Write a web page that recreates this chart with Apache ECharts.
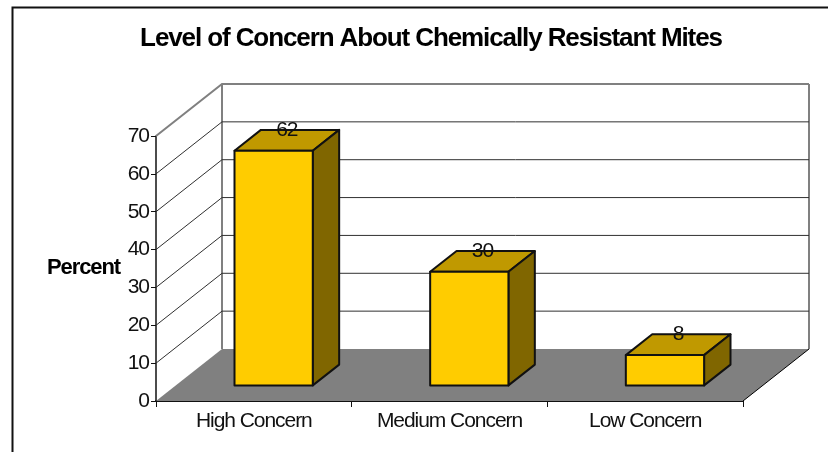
<!DOCTYPE html>
<html><head><meta charset="utf-8">
<style>html,body{margin:0;padding:0;background:#fff}#c{width:828px;height:452px}</style>
<script src="https://cdn.jsdelivr.net/npm/echarts@6/dist/echarts.min.js"></script>
</head><body><div id="c"></div>
<script>
const categories = ['High Concern', 'Medium Concern', 'Low Concern'];
const percentValues = [62, 30, 8];
const yTicks = [0, 10, 20, 30, 40, 50, 60, 70];
const chartTitle = 'Level of Concern About Chemically Resistant Mites';
const yAxisName = 'Percent';

// tight glyph spacing of the original rendering
const proto = CanvasRenderingContext2D.prototype;
function tight(ctx) { ctx.letterSpacing = ctx.font.indexOf('bold') >= 0 ? '-1.1px' : '-1.05px'; }
['fillText', 'strokeText', 'measureText'].forEach(function (m) {
  const o = proto[m];
  proto[m] = function () { tight(this); return o.apply(this, arguments); };
});

const DX = 66, DY = -52;
const FONT = 'Liberation Sans';

function renderFrame(params, api) {
  const v = api.value(1), cs = params.coordSys;
  const x0 = cs.x, x1 = cs.x + cs.width, y = api.coord([0, v])[1];
  const top = api.coord([0, yTicks[yTicks.length - 1]])[1];
  const base = api.coord([0, 0])[1];
  const grey = { stroke: '#808080', lineWidth: 2, fill: null };
  if (v === 0) {
    return { type: 'group', children: [
      { type: 'polygon', shape: { points: [[x0, base], [x0 + DX, base + DY], [x1 + DX, base + DY], [x1, base]] },
        style: { fill: '#808080', stroke: null } },
      { type: 'polyline', shape: { points: [[x0 + DX, top + DY], [x0 + DX, base + DY]] }, style: grey },
      { type: 'polyline', shape: { points: [[x1 + DX, top + DY], [x1 + DX, base + DY]] }, style: grey },
      { type: 'polyline', shape: { points: [[x1, base], [x1 + DX, base + DY]] }, style: { stroke: '#000', lineWidth: 1, fill: null } }
    ] };
  }
  const isTop = v === yTicks[yTicks.length - 1];
  return { type: 'polyline',
    shape: { points: [[x0, y], [x0 + DX, y + DY], [x1 + DX, y + DY]] },
    style: isTop ? grey : { stroke: '#303030', lineWidth: 1, fill: null } };
}

function renderBar(params, api) {
  const cat = api.value(0), val = api.value(1);
  const c = api.coord([cat, val]), b = api.coord([cat, 0]);
  const band = api.size([1, 0])[0];
  const w = band * 0.4;
  const fx = DX * 0.3, fy = DY * 0.3, dx = DX * 0.4, dy = DY * 0.4;
  const l = c[0] - w / 2 + fx, r = l + w;
  const t = c[1] + fy, bt = b[1] + fy;
  const edge = { stroke: '#111', lineWidth: 2, lineJoin: 'round' };
  return { type: 'group', children: [
    { type: 'polygon', shape: { points: [[l, t], [r, t], [r + dx, t + dy], [l + dx, t + dy]] },
      style: Object.assign({ fill: '#C09900' }, edge) },
    { type: 'polygon', shape: { points: [[r, t], [r + dx, t + dy], [r + dx, bt + dy], [r, bt]] },
      style: Object.assign({ fill: '#806600' }, edge) },
    { type: 'rect', shape: { x: l, y: t, width: w, height: bt - t },
      style: Object.assign({ fill: '#FFCC00' }, edge) },
    { type: 'text', x: (l + r) / 2 + dx / 2, y: t + dy,
      style: { text: String(val), fill: '#111', font: '21px "' + FONT + '"', textAlign: 'center', textVerticalAlign: 'middle' } }
  ] };
}

const chart = echarts.init(document.getElementById('c'), null, { renderer: 'canvas' });
chart.setOption({
  animation: false,
  backgroundColor: '#fff',
  title: { text: chartTitle, left: 426, top: 21, textAlign: 'center',
    textStyle: { fontFamily: FONT, fontWeight: 'bold', fontSize: 26, color: '#000' } },
  graphic: [
    { type: 'polyline', shape: { points: [[12.5, 452], [12.5, 7.5], [828, 7.5]] },
      style: { stroke: '#111', lineWidth: 2, fill: null }, silent: true },
    { type: 'text', x: 47, y: 268, style: { text: yAxisName, fill: '#000',
      font: 'bold 22px "' + FONT + '"', textVerticalAlign: 'middle' }, silent: true }
  ],
  grid: { left: 156, top: 136, width: 587, height: 265, containLabel: false },
  xAxis: { type: 'category', data: categories,
    axisLine: { lineStyle: { color: '#111', width: 2 } },
    axisTick: { show: true, alignWithLabel: false, length: 6, lineStyle: { color: '#111' } },
    axisLabel: { color: '#111', fontFamily: FONT, fontSize: 21, margin: 10 },
    splitLine: { show: false } },
  yAxis: { type: 'value', min: 0, max: 70, interval: 10,
    axisLine: { show: true, lineStyle: { color: '#111', width: 1.5 } },
    axisTick: { show: true, length: 5, lineStyle: { color: '#111' } },
    axisLabel: { color: '#111', fontFamily: FONT, fontSize: 21, margin: 7 },
    splitLine: { show: false } },
  series: [
    { type: 'custom', name: 'frame', renderItem: renderFrame, clip: false, silent: true,
      data: yTicks.map(function (t) { return [0, t]; }), z: 1 },
    { type: 'custom', name: 'Percent', renderItem: renderBar, clip: false,
      encode: { x: 0, y: 1 },
      data: percentValues.map(function (v, i) { return [i, v]; }), z: 2 }
  ]
});
</script></body></html>
